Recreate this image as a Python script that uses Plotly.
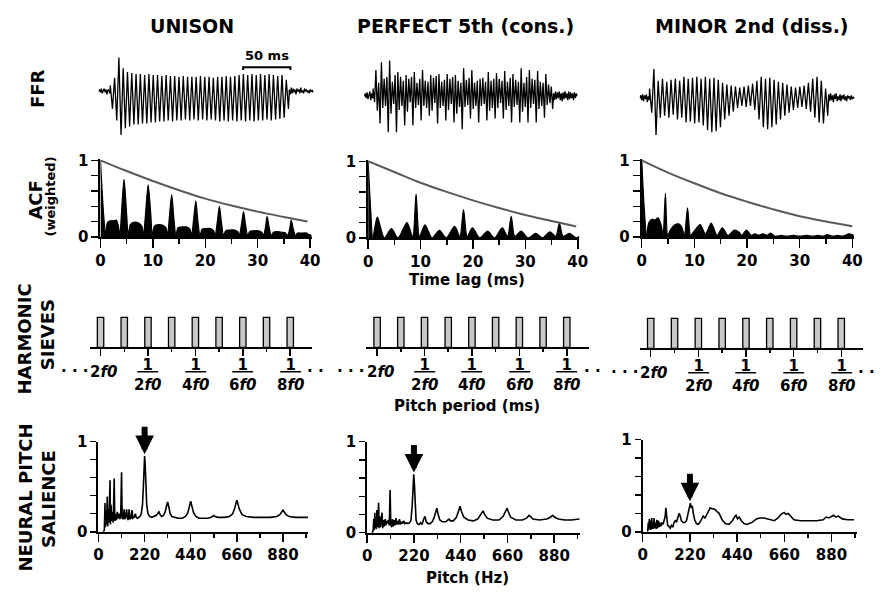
import plotly.graph_objects as go

W, H = 882, 598
FONT = "DejaVu Sans"

# ---------------- DATA ----------------
column_titles = ["UNISON", "PERFECT 5th (cons.)", "MINOR 2nd (diss.)"]

# FFR waveforms (arbitrary amplitude units, positive = up)
ffr_noise_step_ms = 1.0
unison_pre = [0, 2, -1, 3, -2, 1, 3, -1, 2, -3, 2, 1, -2]
unison_onset_ms = 12.5
unison_step_ms = 2.27
unison_peaks = [6, 14, 35, 24, 20, 19, 18, 18, 17, 18, 17, 17, 16, 17, 16, 16, 15, 16, 15, 15,
                15, 16, 15, 15, 14, 15, 15, 16, 15, 16, 17, 18, 17, 18, 17, 18, 17, 18, 17, 16,
                17, 12]
unison_troughs = [-18, -30, -45, -38, -36, -34, -34, -33, -33, -32, -32, -31, -31, -30, -31, -30,
                  -30, -29, -30, -29, -30, -29, -30, -29, -30, -31, -30, -31, -30, -31, -30, -31,
                  -30, -31, -30, -30, -29, -30, -29, -28, -27, -18]
unison_post = [2, -3, 4, -2, 3, -1, 2, -3, 3, 0, 2, -2, 4, -1, 1, -2, 3, 0, 2, -1, 1, -2, 2, 0, 1, -1]

fifth_pre = [0, 3, -2, 4, -3, 2, 5, -4, 3, -2]
fifth_onset_ms = 9.5
fifth_step_ms = 1.45
fifth_cycles = [
    [8, -6, 27, -15, 14, -28],
    [35, -12, 18, -10, 20, -37],
    [37, -18, 15, -8, 22, -37],
    [25, -14, 20, -10, 16, -30],
    [22, -16, 18, -6, 20, -30],
    [25, -12, 14, -9, 18, -25],
    [27, -10, 16, -12, 15, -20],
    [22, -15, 19, -7, 21, -28],
    [23, -12, 15, -10, 17, -25],
    [23, -14, 18, -8, 20, -27],
    [22, -18, 16, -11, 14, -34],
    [29, -11, 17, -9, 19, -23],
    [27, -13, 14, -10, 16, -27],
    [18, -10, 19, -8, 15, -25],
    [25, -15, 16, -12, 18, -23],
    [24, -12, 18, -7, 16, -23],
    [26, -14, 15, -10, 19, -27],
    [23, -11, 17, -9, 15, -27],
    [29, -16, 14, -11, 20, -27],
    [27, -12, 18, -8, 17, -27],
    [26, -13, 15, -10, 14, -22],
    [23, -9, 12, -7, 10, -13],
]
fifth_post = [3, -4, 5, -3, 4, -2, 5, -4, 3, -5, 4, -3, 5, -2, 3, -4, 5, -3, 4, -2, 3, -4, 4, -2, 3, 0]

minor_pre = [0, 3, -2, 4, -3, 3, -1, 4, -4, 2, -2]
minor_onset_ms = 10.4
minor_step_ms = 2.27
minor_peaks = [10, 30, 18, 20, 17, 19, 20, 18, 22, 20, 21, 22, 20, 22, 20, 21, 19, 16, 14, 13,
               12, 11, 12, 13, 15, 18, 22, 20, 21, 19, 17, 16, 14, 12, 11, 12, 13, 16, 20, 22,
               18, 10]
minor_troughs = [-15, -38, -20, -18, -20, -17, -22, -20, -25, -24, -26, -25, -28, -33, -35, -34,
                 -30, -22, -18, -14, -10, -8, -9, -8, -12, -22, -30, -32, -30, -27, -22, -18,
                 -15, -12, -10, -9, -11, -14, -20, -25, -26, -18]
minor_post = [4, -3, 5, -2, 3, -4, 4, -1, 5, -3, 2, -2, 4, -3, 3, -1, 4, -2, 2, -3, 3, 0, 2, -2, 3, -1, 1, 0]

scale_bar_ms = 50
scale_bar_start_ms = 153

# Weighted ACF (lag ms, value)
acf_unison = [(0, 1.0), (0.6, 0.3), (1.0, 0.02), (1.3, 0.18), (1.8, 0.21), (2.5, 0.21), (3.0, 0.22),
              (3.4, 0.15), (3.7, 0.02), (4.0, 0.3), (4.5, 0.75), (5.0, 0.3), (5.3, 0.02), (5.7, 0.16),
              (6.3, 0.19), (7.3, 0.18), (7.9, 0.14), (8.2, 0.02), (8.6, 0.3), (9.1, 0.68), (9.6, 0.3),
              (9.9, 0.02), (10.3, 0.14), (11.0, 0.16), (12.0, 0.15), (12.5, 0.12), (12.8, 0.02),
              (13.2, 0.3), (13.6, 0.55), (14.0, 0.25), (14.4, 0.02), (14.8, 0.12), (15.5, 0.13),
              (16.5, 0.13), (17.1, 0.10), (17.4, 0.02), (17.8, 0.25), (18.2, 0.47), (18.6, 0.2),
              (19.0, 0.02), (19.4, 0.10), (20.0, 0.11), (21.0, 0.11), (21.6, 0.08), (21.9, 0.02),
              (22.3, 0.2), (22.7, 0.40), (23.1, 0.18), (23.5, 0.02), (23.9, 0.08), (24.6, 0.09),
              (25.6, 0.09), (26.2, 0.07), (26.5, 0.02), (26.9, 0.16), (27.3, 0.33), (27.7, 0.15),
              (28.1, 0.02), (28.5, 0.07), (29.2, 0.08), (30.2, 0.08), (30.8, 0.06), (31.1, 0.02),
              (31.5, 0.13), (31.8, 0.27), (32.2, 0.12), (32.6, 0.02), (33.0, 0.06), (33.7, 0.07),
              (34.7, 0.06), (35.3, 0.05), (35.7, 0.02), (36.1, 0.1), (36.4, 0.22), (36.8, 0.1),
              (37.2, 0.02), (37.6, 0.05), (38.3, 0.05), (39.3, 0.05), (39.8, 0.03), (40.3, 0.02)]
acf_fifth = [(0, 1.0), (0.5, 0.35), (0.9, 0.0), (1.75, 0.27), (3.1, 0.0), (4.45, 0.12), (5.7, 0.0),
             (7.4, 0.2), (8.5, 0.02), (9.15, 0.57), (9.8, 0.02), (10.85, 0.17), (12.2, 0.0),
             (13.6, 0.1), (14.9, 0.0), (16.5, 0.15), (17.5, 0.02), (18.2, 0.37), (18.9, 0.02),
             (19.9, 0.13), (21.3, 0.0), (22.8, 0.09), (24.1, 0.0), (25.6, 0.13), (26.6, 0.02),
             (27.3, 0.28), (28.0, 0.02), (29.2, 0.09), (30.5, 0.0), (32.0, 0.06), (33.3, 0.0),
             (34.7, 0.08), (35.8, 0.02), (36.5, 0.19), (37.2, 0.02), (38.4, 0.06), (39.7, 0.0),
             (40.3, 0.02)]
acf_minor = [(0, 1.0), (0.5, 0.35), (0.95, 0.0), (1.3, 0.18), (1.9, 0.23), (2.5, 0.22), (3.1, 0.25),
             (3.7, 0.15), (4.05, 0.02), (4.5, 0.57), (4.95, 0.02), (5.5, 0.1), (6.3, 0.16),
             (7.0, 0.17), (7.6, 0.13), (8.1, 0.02), (8.7, 0.38), (9.3, 0.02), (10.0, 0.08),
             (11.1, 0.16), (12.1, 0.04), (13.2, 0.18), (14.3, 0.02), (15.3, 0.12), (16.4, 0.02),
             (17.6, 0.09), (18.5, 0.06), (19.0, 0.02), (19.9, 0.09), (20.8, 0.02), (21.5, 0.04),
             (22.2, 0.02), (23.0, 0.04), (23.8, 0.02), (24.5, 0.05), (25.3, 0.01), (26.5, 0.02),
             (27.5, 0.01), (28.8, 0.02), (30.0, 0.01), (31.3, 0.02), (32.5, 0.01), (33.5, 0.02),
             (34.5, 0.01), (35.2, 0.03), (36.2, 0.01), (37.2, 0.02), (38.2, 0.01), (39.4, 0.04),
             (40.3, 0.02)]

# Weighting envelope read at lags (ms)
env_unison = [(0, 1.0), (5, 0.86), (10, 0.73), (15, 0.61), (20, 0.5), (25, 0.41), (30, 0.33), (35, 0.26), (39.5, 0.2)]
env_fifth = [(0, 1.0), (5, 0.86), (10, 0.72), (15, 0.6), (20, 0.49), (25, 0.39), (30, 0.3), (35, 0.22), (39.7, 0.15)]
env_minor = [(0, 1.0), (5, 0.84), (10, 0.70), (15, 0.57), (20, 0.46), (25, 0.36), (30, 0.27), (35, 0.2), (40, 0.14)]

# Harmonic sieves
sieve_positions = [1, 2, 3, 4, 5, 6, 7, 8, 9]
sieve_heights = [1, 1, 1, 1, 1, 1, 1, 1, 1]
sieve_label_positions = [1, 3, 5, 7, 9]
sieve_minor_positions = [2, 4, 6, 8]
sieve_first_label = "2<i>f</i><i>0</i>"
sieve_fraction_denoms = ["2", "4", "6", "8"]

# Neural pitch salience (Hz, value)
sal_unison = [(23, 0.0), (28, 0.02), (31, 0.32), (33, 0.05), (36, 0.2), (38, 0.08), (42, 0.39), (44, 0.06),
              (47, 0.25), (50, 0.1), (55, 0.57), (57, 0.08), (60, 0.3), (63, 0.12), (67, 0.22), (70, 0.1),
              (75, 0.59), (78, 0.12), (82, 0.2), (86, 0.13), (90, 0.22), (94, 0.15), (98, 0.2), (102, 0.14),
              (106, 0.18), (110, 0.66), (113, 0.15), (118, 0.14), (122, 0.25), (126, 0.14), (130, 0.17),
              (134, 0.25), (138, 0.15), (142, 0.13), (146, 0.25), (150, 0.14), (155, 0.15), (160, 0.24),
              (164, 0.15), (170, 0.16), (176, 0.2), (180, 0.16), (186, 0.15), (192, 0.16), (198, 0.17),
              (204, 0.2), (210, 0.3), (214, 0.5), (218, 0.78), (220, 0.84), (222, 0.78), (226, 0.5),
              (230, 0.3), (236, 0.2), (244, 0.17), (254, 0.16), (264, 0.17), (274, 0.18), (282, 0.2),
              (288, 0.22), (294, 0.19), (302, 0.17), (310, 0.18), (318, 0.22), (324, 0.28), (330, 0.33),
              (336, 0.27), (342, 0.2), (350, 0.17), (362, 0.16), (380, 0.15), (400, 0.15), (415, 0.17),
              (426, 0.21), (434, 0.28), (440, 0.34), (446, 0.28), (454, 0.21), (465, 0.17), (480, 0.15),
              (500, 0.15), (520, 0.15), (538, 0.16), (545, 0.17), (550, 0.18), (556, 0.17), (570, 0.16),
              (600, 0.16), (625, 0.17), (640, 0.2), (650, 0.26), (656, 0.32), (660, 0.35), (665, 0.31),
              (672, 0.25), (685, 0.19), (705, 0.17), (740, 0.16), (780, 0.16), (820, 0.16), (850, 0.17),
              (865, 0.19), (874, 0.22), (880, 0.24), (886, 0.22), (895, 0.19), (910, 0.17), (940, 0.16),
              (970, 0.16), (1000, 0.16)]
sal_fifth = [(23, 0.0), (28, 0.02), (31, 0.15), (33, 0.03), (36, 0.22), (38, 0.05), (41, 0.12), (43, 0.04),
             (46, 0.25), (48, 0.06), (51, 0.15), (54, 0.33), (56, 0.05), (60, 0.18), (63, 0.06), (67, 0.15),
             (70, 0.22), (73, 0.05), (77, 0.14), (80, 0.07), (85, 0.15), (88, 0.08), (92, 0.13), (96, 0.1),
             (100, 0.14), (104, 0.08), (108, 0.47), (111, 0.1), (115, 0.06), (119, 0.15), (123, 0.07),
             (127, 0.14), (131, 0.08), (135, 0.16), (139, 0.09), (143, 0.13), (148, 0.09), (152, 0.15),
             (157, 0.09), (162, 0.12), (167, 0.1), (172, 0.13), (178, 0.1), (185, 0.11), (192, 0.1),
             (200, 0.11), (206, 0.14), (212, 0.3), (216, 0.55), (219, 0.64), (222, 0.55), (226, 0.3),
             (230, 0.14), (236, 0.1), (244, 0.09), (252, 0.11), (258, 0.09), (266, 0.15), (272, 0.18),
             (278, 0.12), (286, 0.1), (296, 0.1), (306, 0.12), (314, 0.16), (322, 0.22), (328, 0.27),
             (334, 0.2), (342, 0.14), (355, 0.12), (370, 0.12), (380, 0.14), (386, 0.15), (392, 0.13),
             (405, 0.13), (420, 0.17), (430, 0.23), (437, 0.29), (444, 0.23), (455, 0.17), (475, 0.14),
             (500, 0.13), (520, 0.15), (535, 0.2), (545, 0.24), (553, 0.2), (565, 0.16), (590, 0.14),
             (620, 0.14), (640, 0.18), (652, 0.24), (658, 0.27), (664, 0.23), (675, 0.17), (700, 0.14),
             (730, 0.14), (750, 0.16), (762, 0.19), (768, 0.18), (780, 0.15), (810, 0.14), (845, 0.15),
             (862, 0.17), (873, 0.19), (882, 0.17), (900, 0.15), (930, 0.14), (960, 0.14), (1000, 0.15)]
sal_minor = [(23, 0.0), (26, 0.1), (28, 0.02), (31, 0.14), (33, 0.03), (36, 0.12), (38, 0.02), (42, 0.15),
             (44, 0.03), (47, 0.1), (50, 0.03), (53, 0.15), (56, 0.04), (60, 0.1), (63, 0.03), (66, 0.13),
             (69, 0.04), (73, 0.12), (77, 0.05), (81, 0.1), (85, 0.06), (90, 0.1), (95, 0.08), (100, 0.12),
             (104, 0.16), (108, 0.26), (112, 0.15), (116, 0.07), (122, 0.06), (128, 0.04), (134, 0.07),
             (140, 0.05), (146, 0.1), (152, 0.12), (158, 0.11), (164, 0.15), (170, 0.2), (175, 0.17),
             (180, 0.12), (188, 0.1), (196, 0.1), (204, 0.12), (210, 0.18), (216, 0.27), (222, 0.31),
             (226, 0.26), (231, 0.28), (236, 0.2), (242, 0.13), (250, 0.09), (258, 0.08), (266, 0.1),
             (274, 0.13), (282, 0.17), (290, 0.15), (298, 0.18), (306, 0.22), (314, 0.26), (322, 0.25),
             (330, 0.25), (338, 0.24), (346, 0.22), (356, 0.2), (370, 0.13), (385, 0.09), (402, 0.08),
             (418, 0.12), (428, 0.16), (435, 0.18), (442, 0.14), (450, 0.16), (460, 0.12), (472, 0.09),
             (485, 0.08), (508, 0.1), (530, 0.14), (545, 0.15), (565, 0.15), (583, 0.14), (600, 0.13),
             (614, 0.12), (630, 0.15), (645, 0.19), (659, 0.21), (668, 0.19), (678, 0.2), (690, 0.17),
             (705, 0.13), (735, 0.12), (770, 0.12), (810, 0.12), (841, 0.13), (855, 0.16), (868, 0.15),
             (880, 0.17), (890, 0.18), (900, 0.16), (912, 0.17), (930, 0.14), (955, 0.13), (985, 0.13)]
salience_arrow_hz = 220

acf_ticks = [0, 10, 20, 30, 40]
acf_minor_ticks = [5, 15, 25, 35]
unit_ticks = [0, 0.2, 0.4, 0.6, 0.8, 1]
unit_ticktext = ["0", "", "", "", "", "1"]
pitch_ticks = [0, 220, 440, 660, 880]
pitch_minor_ticks = [110, 330, 550, 770, 990]

# ---------------- LAYOUT GEOMETRY (pixels) ----------------
FFR_X = [(95, 315), (365, 582), (645, 865)]
FFR_Y = [(35, 135), (40, 140), (42, 142)]
FFR_XMAX = [229, 226, 229]
ACF_X0 = [97, 369, 647]
ACF_X40 = [310, 582, 861]
ACF_Y0 = [235, 236, 235]
ACF_Y1 = [156, 157, 156]
SIEVE_X = [(86, 312), (367, 593), (645, 872)]
SIEVE_Y0 = [349, 349, 350]
SAL_X = [(95, 308), (368, 584), (648, 866)]
SAL_Y = [(446, 539), (446, 540), (444, 539)]


def dx(a, b):
    return [a / W, b / W]


def dy(top, bottom):
    return [1 - bottom / H, 1 - top / H]


def interleave(a, b):
    out = []
    for p, q in zip(a, b):
        out += [p, q]
    return out


def ffr_series(pre, onset, step, samples, post):
    t = [i * ffr_noise_step_ms for i in range(len(pre))]
    y = list(pre)
    for k, v in enumerate(samples):
        t.append(onset + k * step)
        y.append(v)
    t_end = t[-1]
    for k, v in enumerate(post):
        t.append(t_end + (k + 1) * ffr_noise_step_ms)
        y.append(v)
    return t, y


ffr_data = [
    ffr_series(unison_pre, unison_onset_ms, unison_step_ms, interleave(unison_peaks, unison_troughs), unison_post),
    ffr_series(fifth_pre, fifth_onset_ms, fifth_step_ms, [v for row in fifth_cycles for v in row], fifth_post),
    ffr_series(minor_pre, minor_onset_ms, minor_step_ms, interleave(minor_peaks, minor_troughs), minor_post),
]
acf_data = [acf_unison, acf_fifth, acf_minor]
env_data = [env_unison, env_fifth, env_minor]
sal_data = [sal_unison, sal_fifth, sal_minor]

fig = go.Figure()
layout = dict(width=W, height=H, margin=dict(l=0, r=0, t=0, b=0),
              paper_bgcolor="white", plot_bgcolor="white", showlegend=False)

TICKFONT = dict(family=FONT, size=15, color="black", weight="bold")
BASE_AX = dict(showline=True, linecolor="black", linewidth=2, ticks="outside", tickcolor="black",
               tickwidth=1.5, showgrid=False, zeroline=False, tickfont=TICKFONT, fixedrange=True)


def ax_names(n):
    s = "" if n == 1 else str(n)
    return "x" + s, "y" + s, "xaxis" + s, "yaxis" + s


annotations = []
shapes = []

for c in range(3):
    # ---- FFR ----
    n = 1 + c
    xr, yr, xk, yk = ax_names(n)
    layout[xk] = dict(domain=dx(*FFR_X[c]), range=[0, FFR_XMAX[c]], visible=False, anchor=yr, fixedrange=True)
    layout[yk] = dict(domain=dy(*FFR_Y[c]), range=[-50, 50], visible=False, anchor=xr, fixedrange=True)
    t, y = ffr_data[c]
    fig.add_trace(go.Scatter(x=t, y=y, mode="lines", line=dict(color="black", width=1.3),
                             xaxis=xr, yaxis=yr, hoverinfo="skip"))
    if c == 0:
        x_a, x_b = scale_bar_start_ms, scale_bar_start_ms + scale_bar_ms
        shapes.append(dict(type="path", xref=xr, yref=yr, line=dict(color="black", width=2),
                           path=f"M{x_a},22 L{x_a},25 L{x_b},25 L{x_b},22"))
        annotations.append(dict(text=f"{scale_bar_ms} ms", x=(x_a + x_b) / 2, y=37, xref=xr, yref=yr,
                                showarrow=False, font=dict(family=FONT, size=13, color="black", weight="bold")))

    # ---- ACF ----
    n = 4 + c
    xr, yr, xk, yk = ax_names(n)
    x0, x40 = ACF_X0[c], ACF_X40[c]
    y0, y1 = ACF_Y0[c], ACF_Y1[c]
    layout[xk] = dict(BASE_AX, domain=dx(x0, x0 + (x40 - x0) * 40.3 / 40), range=[0, 40.3],
                      tickvals=acf_ticks, ticklen=9, anchor=yr,
                      minor=dict(tickvals=acf_minor_ticks, ticks="outside", ticklen=5,
                                 tickcolor="black", tickwidth=1.5))
    layout[yk] = dict(BASE_AX, domain=dy(y0 - (y0 - y1) * 1.02, y0), range=[0, 1.02],
                      tickvals=unit_ticks, ticktext=unit_ticktext, ticklen=7, anchor=xr)
    lag, val = zip(*acf_data[c])
    fig.add_trace(go.Scatter(x=lag, y=val, mode="lines", fill="tozeroy", fillcolor="black",
                             line=dict(color="black", width=1.2, shape="spline", smoothing=0.8),
                             xaxis=xr, yaxis=yr, hoverinfo="skip"))
    elag, evals = zip(*env_data[c])
    fig.add_trace(go.Scatter(x=elag, y=evals, mode="lines",
                             line=dict(color="#5a5a5a", width=2, shape="spline"),
                             xaxis=xr, yaxis=yr, hoverinfo="skip"))

    # ---- Harmonic sieves ----
    n = 7 + c
    xr, yr, xk, yk = ax_names(n)
    sb = SIEVE_Y0[c]
    layout[xk] = dict(BASE_AX, domain=dx(*SIEVE_X[c]), range=[0.54, 9.92], tickvals=sieve_label_positions,
                      ticklen=7, showticklabels=False, anchor=yr,
                      minor=dict(tickvals=sieve_minor_positions, ticks="outside", ticklen=3,
                                 tickcolor="black", tickwidth=1.5))
    layout[yk] = dict(domain=dy(sb - 40, sb), range=[0, 1.29], visible=False, anchor=xr, fixedrange=True)
    fig.add_trace(go.Bar(x=sieve_positions, y=sieve_heights, width=0.27,
                         marker=dict(color="#c8c8c8", line=dict(color="black", width=1.3)),
                         xaxis=xr, yaxis=yr, hoverinfo="skip"))
    lab_font = dict(family=FONT, size=15, color="black", weight="bold")
    annotations.append(dict(text=sieve_first_label, x=sieve_label_positions[0], xshift=3,
                            y=1 - (sb + 25) / H, xref=xr, yref="paper", showarrow=False,
                            font=lab_font, yanchor="middle"))
    annotations.append(dict(text="\u00b7 \u00b7 \u00b7", x=sieve_label_positions[0], xshift=-10,
                            y=1 - (sb + 24) / H, xref=xr, yref="paper", showarrow=False,
                            font=lab_font, xanchor="right", yanchor="middle"))
    for pos, den in zip(sieve_label_positions[1:], sieve_fraction_denoms):
        annotations.append(dict(text=f"<u>\u00a01\u00a0</u><br>{den}<i>f</i><i>0</i>", x=pos,
                                y=1 - (sb + 28) / H, xref=xr, yref="paper", showarrow=False,
                                font=lab_font, yanchor="middle"))
    annotations.append(dict(text="\u00b7 \u00b7", x=sieve_label_positions[-1], xshift=15,
                            y=1 - (sb + 24) / H, xref=xr, yref="paper", showarrow=False,
                            font=lab_font, xanchor="left", yanchor="middle"))

    # ---- Neural pitch salience ----
    n = 10 + c
    xr, yr, xk, yk = ax_names(n)
    layout[xk] = dict(BASE_AX, domain=dx(*SAL_X[c]), range=[0, 1000], tickvals=pitch_ticks, ticklen=8,
                      anchor=yr,
                      minor=dict(tickvals=pitch_minor_ticks, ticks="outside", ticklen=4,
                                 tickcolor="black", tickwidth=1.5))
    layout[yk] = dict(BASE_AX, domain=dy(*SAL_Y[c]), range=[0, 1], tickvals=unit_ticks,
                      ticktext=unit_ticktext, ticklen=6, anchor=xr)
    hz, sv = zip(*sal_data[c])
    fig.add_trace(go.Scatter(x=hz, y=sv, mode="lines", line=dict(color="black", width=1.6),
                             xaxis=xr, yaxis=yr, hoverinfo="skip"))
    peak = max(v for f, v in sal_data[c] if abs(f - salience_arrow_hz) <= 6)
    annotations.append(dict(text="", x=salience_arrow_hz, y=peak + 0.02, xref=xr, yref=yr,
                            showarrow=True, ax=0, ay=-29, arrowhead=2, arrowsize=0.62,
                            arrowwidth=6, arrowcolor="black", standoff=0))


def text_ann(text, x, y, size, angle=0):
    return dict(text=text, x=x / W, y=1 - y / H, xref="paper", yref="paper", showarrow=False,
                textangle=angle, xanchor="center", yanchor="middle",
                font=dict(family=FONT, size=size, color="black", weight="bold"))


title_x = [190, 468, 759]
for c in range(3):
    annotations.append(text_ann(column_titles[c], title_x[c], 18, 19))

annotations += [
    text_ann("FFR", 33, 82, 18, -90),
    text_ann("ACF", 31, 197, 18, -90),
    text_ann("(weighted)", 46, 193, 13, -90),
    text_ann("HARMONIC", 20, 340, 18, -90),
    text_ann("SIEVES", 44, 336, 18, -90),
    text_ann("NEURAL PITCH", 21, 504, 18, -90),
    text_ann("SALIENCE", 45, 505, 18, -90),
    text_ann("Time lag (ms)", 469, 279, 15),
    text_ann("Pitch period (ms)", 469, 409, 15),
    text_ann("Pitch (Hz)", 470, 587, 15),
]

layout["annotations"] = annotations
layout["shapes"] = shapes
fig.update_layout(**layout)
fig.write_html("out.html", config={"displayModeBar": False, "staticPlot": True},
               post_script="document.body.style.margin='0';document.body.style.overflow='hidden';")
